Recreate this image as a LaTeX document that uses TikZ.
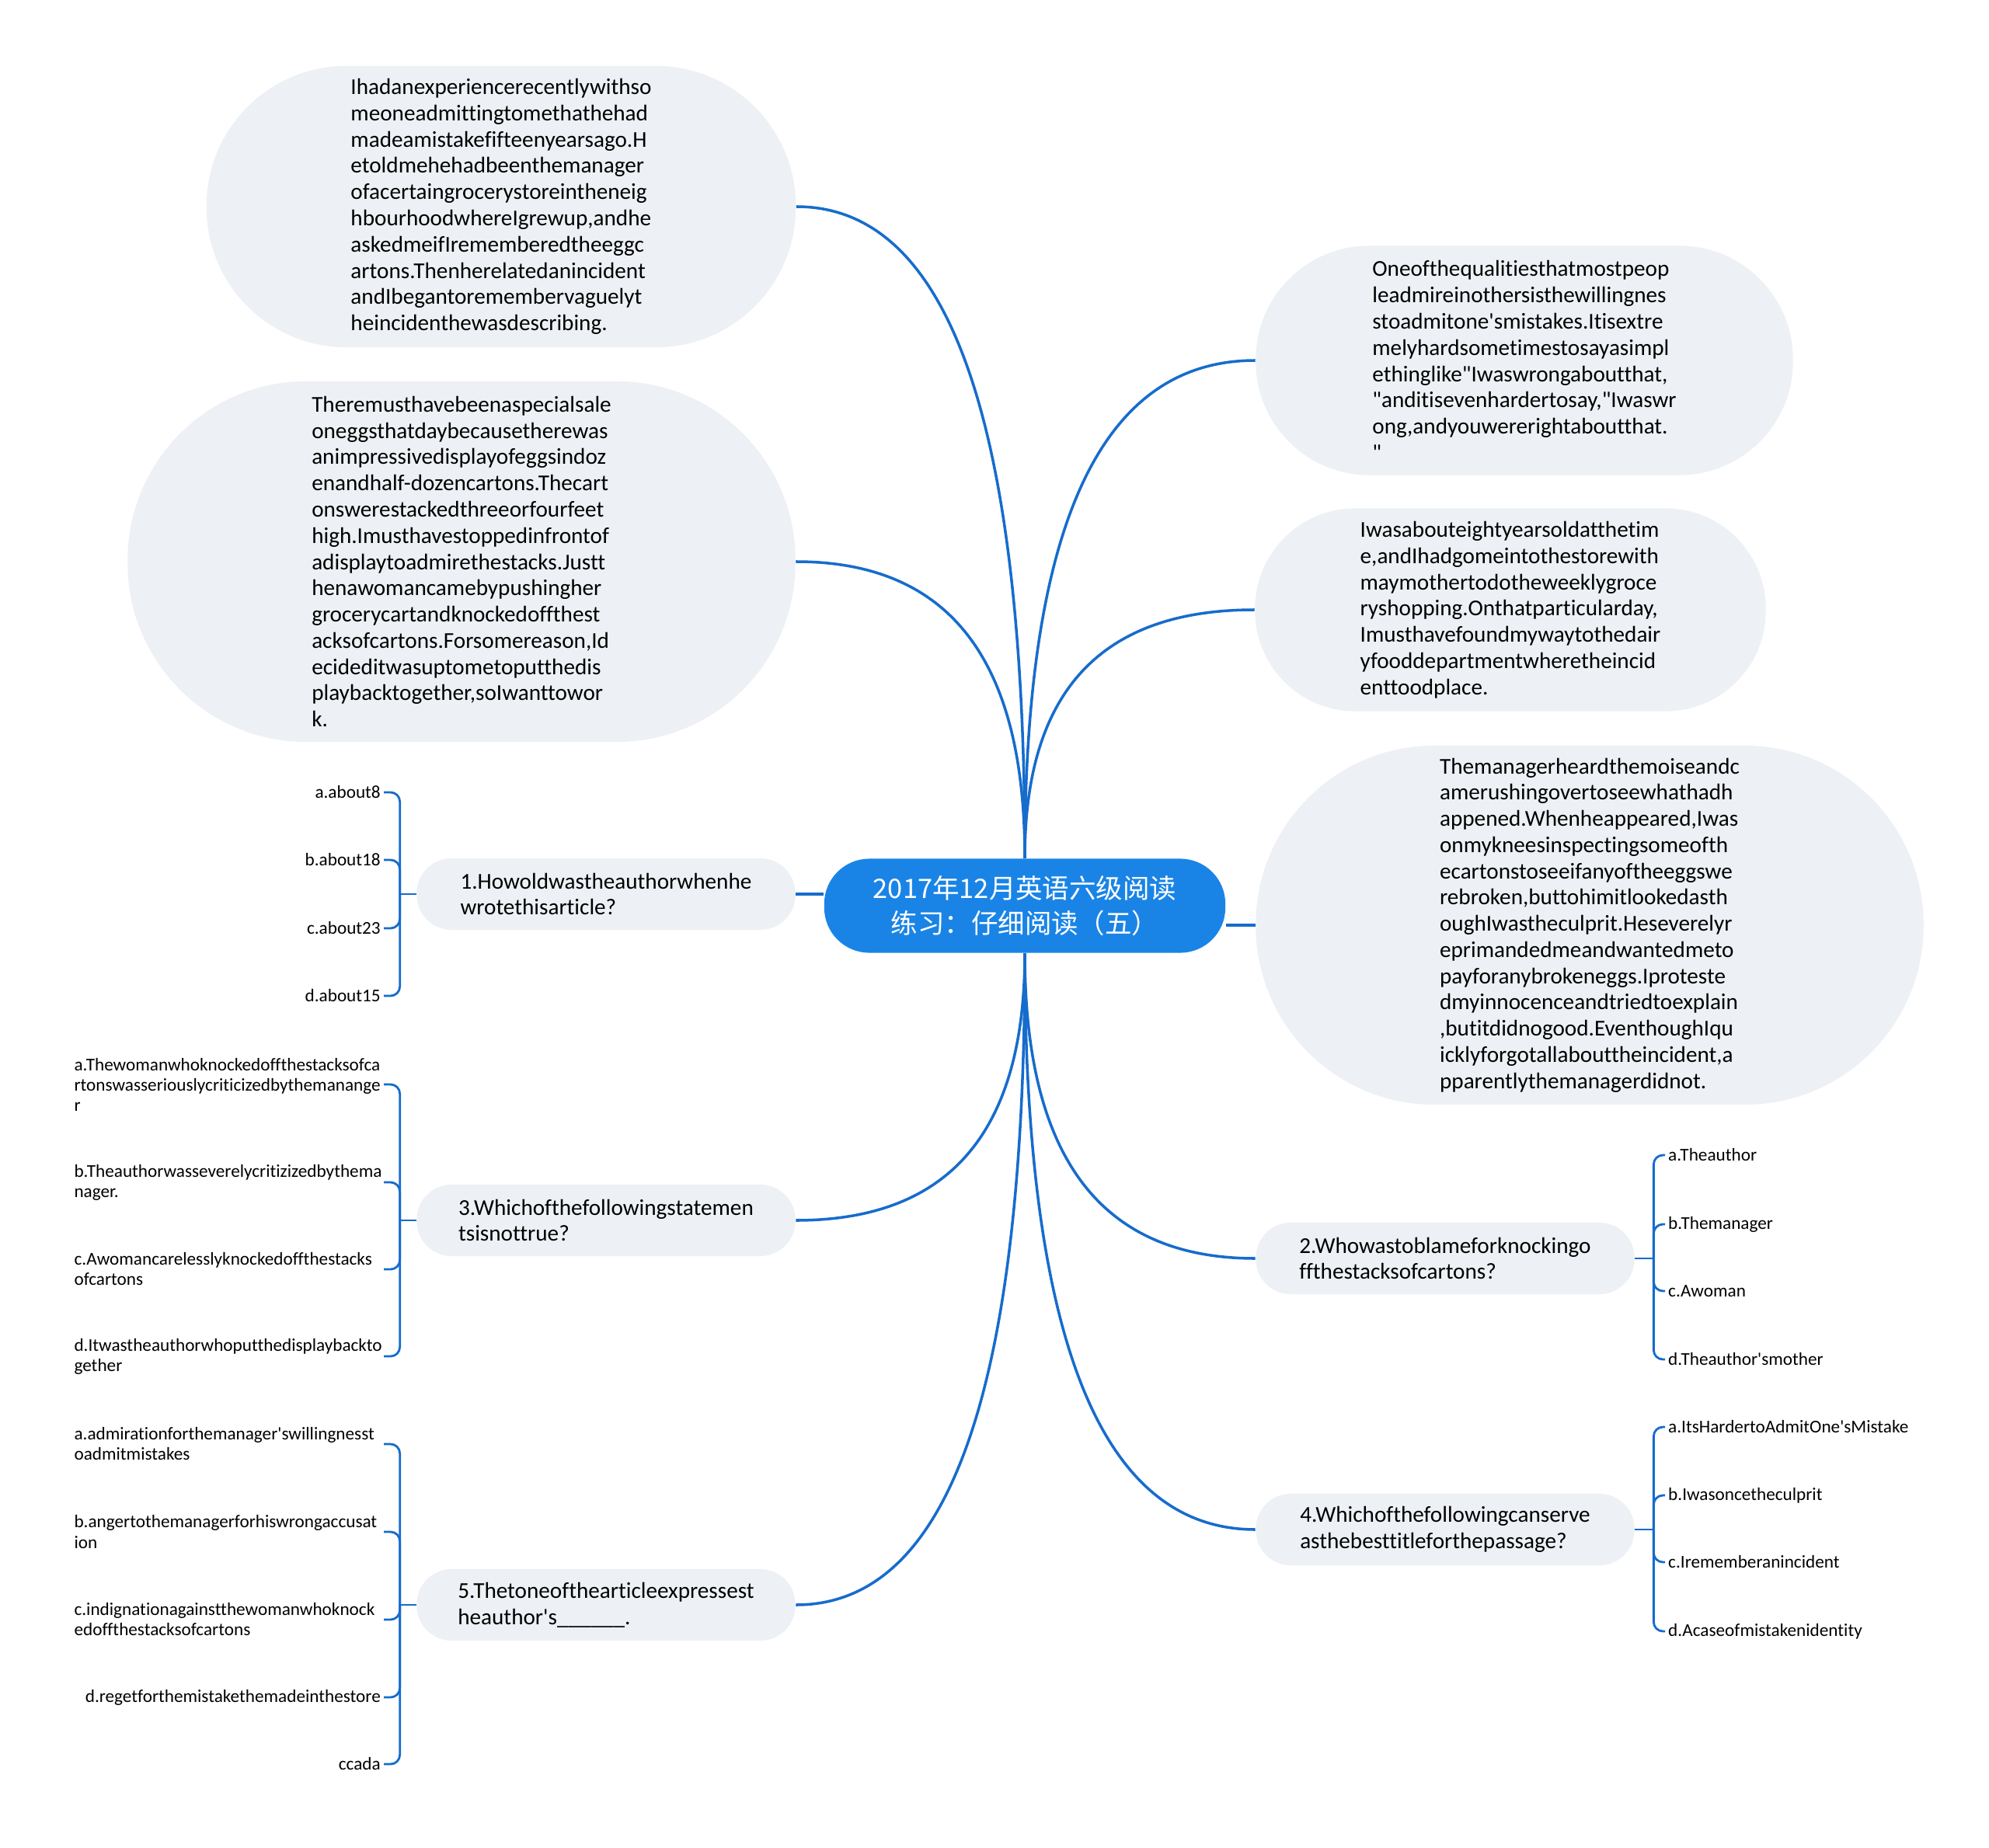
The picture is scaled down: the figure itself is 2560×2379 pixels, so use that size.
\documentclass[tikz,border=0pt]{standalone}
\usepackage{fontspec}
\setmainfont{Carlito}[Ligatures={TeXOff,NoCommon}]
\newfontfamily\cjk{Noto Sans CJK SC}
\usetikzlibrary{calc}

\definecolor{rootblue}{RGB}{26,132,230}
\definecolor{lineblue}{RGB}{22,108,204}
\definecolor{bubblegray}{RGB}{237,240,244}

\begin{document}
\begin{tikzpicture}[x=0.01cm, y=-0.01cm,
  root/.style={fill=rootblue, text=white, align=center, inner sep=0pt,
               font=\cjk\fontsize{9.8}{13}\selectfont,
               minimum width=5.16cm, minimum height=1.21cm, rounded corners=0.58cm},
  bubble/.style={fill=bubblegray, align=left, inner sep=0pt,
                 font=\fontsize{8.3}{9.6}\selectfont},
  leafl/.style={anchor=east, text width=3.94cm, align=left, inner sep=1pt,
                font=\fontsize{6.6}{7.4}\selectfont},
  leafr/.style={anchor=west, align=left, inner sep=1pt,
                font=\fontsize{6.6}{7.4}\selectfont},
  branch/.style={draw=lineblue, line width=1pt},
  brace/.style={draw=lineblue, line width=0.8pt, rounded corners=0.12cm}]

  \fill[white] (0,0) rectangle (2560,2379);
  \useasboundingbox (0,0) rectangle (2560,2379);

  % centre
  \node[root] (root) at (1319,1166)
    {2017年12月英语六级阅读\\练习：仔细阅读（五）};

  % passages
  \node[bubble, minimum width=7.58cm, minimum height=3.62cm, rounded corners=1.8cm]
    (txtA) at (645,266)
    {Ihadanexperiencerecentlywithso\\meoneadmittingtomethathehad\\
     madeamistakefifteenyearsago.H\\etoldmehehadbeenthemanager\\
     ofacertaingrocerystoreintheneig\\hbourhoodwhereIgrewup,andhe\\
     askedmeifIrememberedtheeggc\\artons.Thenherelatedanincident\\
     andIbegantoremembervaguelyt\\heincidenthewasdescribing.};
  \node[bubble, minimum width=8.59cm, minimum height=4.64cm, rounded corners=2.3cm]
    (txtB) at (594,723)
    {Theremusthavebeenaspecialsale\\oneggsthatdaybecausetherewas\\
     animpressivedisplayofeggsindoz\\enandhalf-dozencartons.Thecart\\
     onswerestackedthreeorfourfeet\\high.Imusthavestoppedinfrontof\\
     adisplaytoadmirethestacks.Justt\\henawomancamebypushingher\\
     grocerycartandknockedoffthest\\acksofcartons.Forsomereason,Id\\
     ecideditwasuptometoputthedis\\playbacktogether,soIwanttowor\\k.};
  \node[bubble, minimum width=6.91cm, minimum height=2.95cm, rounded corners=1.46cm]
    (txtC) at (1962,464)
    {Oneofthequalitiesthatmostpeop\\leadmireinothersisthewillingnes\\
     stoadmitone'smistakes.Itisextre\\melyhardsometimestosayasimpl\\
     ethinglike"Iwaswrongaboutthat,\\"anditisevenhardertosay,"Iwaswr\\
     ong,andyouwererightaboutthat.\\"};
  \node[bubble, minimum width=6.57cm, minimum height=2.61cm, rounded corners=1.29cm]
    (txtD) at (1944,785)
    {Iwasabouteightyearsoldatthetim\\e,andIhadgomeintothestorewith\\
     maymothertodotheweeklygroce\\ryshopping.Onthatparticularday,\\
     Imusthavefoundmywaytothedair\\yfooddepartmentwheretheincid\\
     enttoodplace.};
  \node[bubble, minimum width=8.59cm, minimum height=4.62cm, rounded corners=2.3cm]
    (txtE) at (2046,1191)
    {Themanagerheardthemoiseandc\\amerushingovertoseewhathadh\\
     appened.Whenheappeared,Iwas\\onmykneesinspectingsomeofth\\
     ecartonstoseeifanyoftheeggswe\\rebroken,buttohimitlookedasth\\
     oughIwastheculprit.Heseverelyr\\eprimandedmeandwantedmeto\\
     payforanybrokeneggs.Iproteste\\dmyinnocenceandtriedtoexplain\\
     ,butitdidnogood.EventhoughIqu\\icklyforgotallabouttheincident,a\\
     pparentlythemanagerdidnot.};

  % questions
  \tikzset{quest/.style={bubble, minimum width=4.87cm, minimum height=0.92cm,
                         rounded corners=0.45cm}}
  \node[quest] (q1) at (780,1151) {1.Howoldwastheauthorwhenhe\\wrotethisarticle?};
  \node[quest] (q3) at (780,1571) {3.Whichofthefollowingstatemen\\tsisnottrue?};
  \node[quest] (q5) at (780,2066)
    {5.Thetoneofthearticleexpressest\\heauthor's\_\_\_\_\_\_.};
  \node[quest] (q2) at (1860,1620) {2.Whowastoblameforknockingo\\ffthestacksofcartons?};
  \node[quest] (q4) at (1860,1969) {4.Whichofthefollowingcanserve\\asthebesttitleforthepassage?};

  % main branches
  \draw[branch] (q1.east) -- (q1.east -| root.west);
  \draw[branch] (root.east |- txtE.west) -- (txtE.west);
  \foreach \n/\a/\b in {txtA/north/east, txtB/north/east, txtC/north/west,
                        txtD/north/west, q3/south/east, q5/south/east,
                        q2/south/west, q4/south/west}
    \draw[branch] (root.\a)
      .. controls ($(root.\a)!.67!(root.\a |- \n.\b)$)
              and ($(\n.\b)!.67!(root.\a |- \n.\b)$) .. (\n.\b);

  % answers of 1
  \foreach \y/\t [count=\i] in {1020/a.about8, 1107/b.about18,
                                1195/c.about23, 1282/d.about15}
    \node[leafl, align=right] (q1l\i) at (494,\y) {\t};
  \draw[brace] (q1.west) -- ++(-21,0) coordinate (q1f);
  \foreach \i in {1,...,4} \draw[brace] (q1f) |- (q1l\i.east);

  % answers of 3
  \node[leafl] (q3l1) at (494,1396)
    {a.Thewomanwhoknockedoffthestacksofca\\rtonswasseriouslycriticizedbythemanange\\r};
  \node[leafl] (q3l2) at (494,1522) {b.Theauthorwasseverelycritizizedbythema\\nager.};
  \node[leafl] (q3l3) at (494,1634) {c.Awomancarelesslyknockedoffthestacks\\ofcartons};
  \node[leafl] (q3l4) at (494,1746) {d.Itwastheauthorwhoputthedisplaybackto\\gether};
  \draw[brace] (q3.west) -- ++(-21,0) coordinate (q3f);
  \foreach \i in {1,...,4} \draw[brace] (q3f) |- (q3l\i.east);

  % answers of 5
  \node[leafl] (q5l1) at (494,1859)
    {a.admirationforthemanager'swillingnesst\\oadmitmistakes};
  \node[leafl] (q5l2) at (494,1972) {b.angertothemanagerforhiswrongaccusat\\ion};
  \node[leafl] (q5l3) at (494,2085)
    {c.indignationagainstthewomanwhoknock\\edoffthestacksofcartons};
  \node[leafl, align=right] (q5l4) at (494,2185) {d.regetforthemistakethemadeinthestore};
  \node[leafl, align=right] (q5l5) at (494,2271) {ccada};
  \draw[brace] (q5.west) -- ++(-21,0) coordinate (q5f);
  \foreach \i in {1,...,5} \draw[brace] (q5f) |- (q5l\i.east);

  % answers of 2
  \foreach \y/\t [count=\i] in {1487/a.Theauthor, 1576/b.Themanager,
                                1662/c.Awoman, 1750/d.Theauthor'smother}
    \node[leafr] (q2l\i) at (2143,\y) {\t};
  \draw[brace] (q2.east) -- ++(24,0) coordinate (q2f);
  \foreach \i in {1,...,4} \draw[brace] (q2f) |- (q2l\i.west);

  % answers of 4
  \foreach \y/\t [count=\i] in {1837/a.ItsHardertoAdmitOne'sMistake,
                                1925/b.Iwasoncetheculprit,
                                2011/c.Irememberanincident,
                                2100/d.Acaseofmistakenidentity}
    \node[leafr] (q4l\i) at (2143,\y) {\t};
  \draw[brace] (q4.east) -- ++(24,0) coordinate (q4f);
  \foreach \i in {1,...,4} \draw[brace] (q4f) |- (q4l\i.west);
\end{tikzpicture}
\end{document}
